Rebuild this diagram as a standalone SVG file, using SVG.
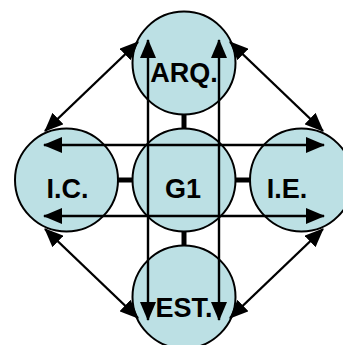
<svg xmlns="http://www.w3.org/2000/svg" width="343" height="345" viewBox="0 0 343 345">
  <style>
    .node { fill: #BCE0E4; stroke: #000; stroke-width: 2; }
    .bar { stroke: #000; stroke-width: 5; fill: none; }
    .link { stroke: #000; stroke-width: 2.4; fill: none; marker-start: url(#ah); marker-end: url(#ah); }
    .label { font-family: "Liberation Sans", Arial, sans-serif; font-weight: bold; font-size: 27px; text-anchor: middle; fill: #000; }
  </style>
  <defs>
    <marker id="ah" viewBox="0 0 19 16" refX="18" refY="8" markerUnits="userSpaceOnUse" markerWidth="19" markerHeight="16" orient="auto-start-reverse">
      <path d="M0,0 L19,8 L0,16 z" fill="#000"/>
    </marker>
  </defs>
  <rect width="343" height="345" fill="#fff"/>
  <g id="bars">
    <line class="bar" x1="184" y1="110" x2="184" y2="132"/>
    <line class="bar" x1="184" y1="227" x2="184" y2="250"/>
    <line class="bar" x1="114" y1="180" x2="136" y2="180"/>
    <line class="bar" x1="231" y1="180" x2="254" y2="180"/>
  </g>
  <g id="ARQ"><circle class="node" cx="184" cy="63" r="51.5"/></g>
  <g id="G1"><circle class="node" cx="184" cy="180" r="51.5"/></g>
  <g id="IC"><circle class="node" cx="66.5" cy="180" r="51.5"/></g>
  <g id="IE"><circle class="node" cx="301.5" cy="180" r="51.5"/></g>
  <g id="EST"><circle class="node" cx="184" cy="297" r="51.5"/></g>
  <g id="connectors">
    <line class="link" x1="148" y1="40" x2="148" y2="320"/>
    <line class="link" x1="219" y1="40" x2="219" y2="320"/>
    <line class="link" x1="44" y1="145" x2="324" y2="145"/>
    <line class="link" x1="44" y1="216" x2="324" y2="216"/>
    <line class="link" x1="138" y1="42" x2="45" y2="131"/>
    <line class="link" x1="230" y1="42" x2="323" y2="131"/>
    <line class="link" x1="45" y1="229" x2="138" y2="318"/>
    <line class="link" x1="323" y1="229" x2="230" y2="318"/>
  </g>
  <g id="labels">
    <text class="label" x="184" y="82">ARQ.</text>
    <text class="label" x="67.5" y="198">I.C.</text>
    <text class="label" x="183" y="198">G1</text>
    <text class="label" x="287" y="198">I.E.</text>
    <text class="label" x="184" y="317">EST.</text>
  </g>
</svg>
